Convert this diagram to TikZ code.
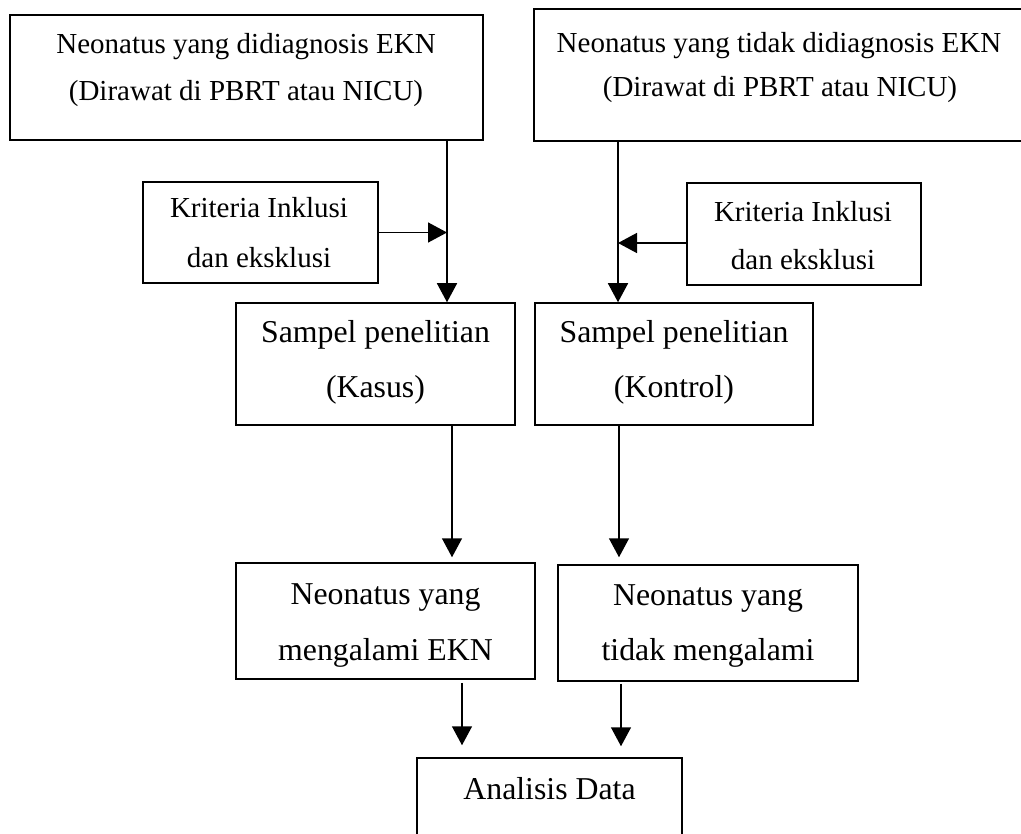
\documentclass[tikz,border=0pt]{standalone}
\usepackage{fontspec}
\setmainfont{Liberation Serif}
\usetikzlibrary{arrows.meta}
\begin{document}
\begin{tikzpicture}[x=1pt,y=-1pt,
  boxnode/.style={draw=black, line width=1.5pt, inner sep=0pt, rectangle},
  smalltxt/.style={anchor=base, inner sep=0pt, font=\fontsize{29}{34}\selectfont},
  bigtxt/.style={anchor=base, inner sep=0pt, font=\fontsize{31.8}{38}\selectfont},
  arr/.style={line width=1.5pt, -{Triangle[length=19pt,width=20pt]}}]
\useasboundingbox (0,0) rectangle (1021,834);
\clip (0,0) rectangle (1021,834);
% boxes
\node[boxnode, minimum width=473pt, minimum height=125pt] (b1) at (246.5,77.5) {};
\node[boxnode, minimum width=496pt, minimum height=132pt] (b2) at (782,75) {};
\node[boxnode, minimum width=235pt, minimum height=101pt] (k1) at (260.5,232.5) {};
\node[boxnode, minimum width=234pt, minimum height=102pt] (k2) at (804,234) {};
\node[boxnode, minimum width=279pt, minimum height=122pt] (s1) at (375.5,364) {};
\node[boxnode, minimum width=278pt, minimum height=122pt] (s2) at (674,364) {};
\node[boxnode, minimum width=299pt, minimum height=116pt] (n1) at (385.5,621) {};
\node[boxnode, minimum width=300pt, minimum height=116pt] (n2) at (708,623) {};
\node[boxnode, minimum width=265pt, minimum height=92pt] (an) at (549.5,804) {};
% texts
\node[smalltxt] (t1a) at (246,53.5) {Neonatus yang didiagnosis EKN};
\node[smalltxt] (t1b) at (246,101) {(Dirawat di PBRT atau NICU)};
\node[smalltxt] (t2a) at (779,53) {Neonatus yang tidak didiagnosis EKN};
\node[smalltxt] (t2b) at (780,97) {(Dirawat di PBRT atau NICU)};
\node[smalltxt] (tk1a) at (259,218) {Kriteria Inklusi};
\node[smalltxt] (tk1b) at (259,268) {dan eksklusi};
\node[smalltxt] (tk2a) at (803,222) {Kriteria Inklusi};
\node[smalltxt] (tk2b) at (803,270) {dan eksklusi};
\node[bigtxt] (ts1a) at (375.5,343) {Sampel penelitian};
\node[bigtxt] (ts1b) at (375.5,398) {(Kasus)};
\node[bigtxt] (ts2a) at (674,343) {Sampel penelitian};
\node[bigtxt] (ts2b) at (674,398) {(Kontrol)};
\node[bigtxt] (tn1a) at (385.5,604) {Neonatus yang};
\node[bigtxt] (tn1b) at (385.5,660) {mengalami EKN};
\node[bigtxt] (tn2a) at (708,605) {Neonatus yang};
\node[bigtxt] (tn2b) at (708,660) {tidak mengalami};
\node[bigtxt] (ta) at (549.5,799) {Analisis Data};
% guide coordinates
\coordinate (c1) at (447,0);
\coordinate (c2) at (618,0);
\coordinate (c3) at (0,243);
\coordinate (c4) at (452,0);
\coordinate (c5) at (619,0);
\coordinate (c6) at (462,0);
\coordinate (c7) at (621,0);
% connectors
\draw[arr] (b1.south -| c1) -- (s1.north -| c1);
\draw[arr] (k1.east) -- (k1.east -| c1);
\draw[arr] (b2.south -| c2) -- (s2.north -| c2);
\draw[arr] (k2.west |- c3) -- (c2 |- c3);
\draw[arr, shorten >=5pt] (s1.south -| c4) -- (n1.north -| c4);
\draw[arr, shorten >=7pt] (s2.south -| c5) -- (n2.north -| c5);
\draw[arr, shorten <=3pt, shorten >=12pt] (n1.south -| c6) -- (an.north -| c6);
\draw[arr, shorten <=2pt, shorten >=11pt] (n2.south -| c7) -- (an.north -| c7);
\end{tikzpicture}
\end{document}
